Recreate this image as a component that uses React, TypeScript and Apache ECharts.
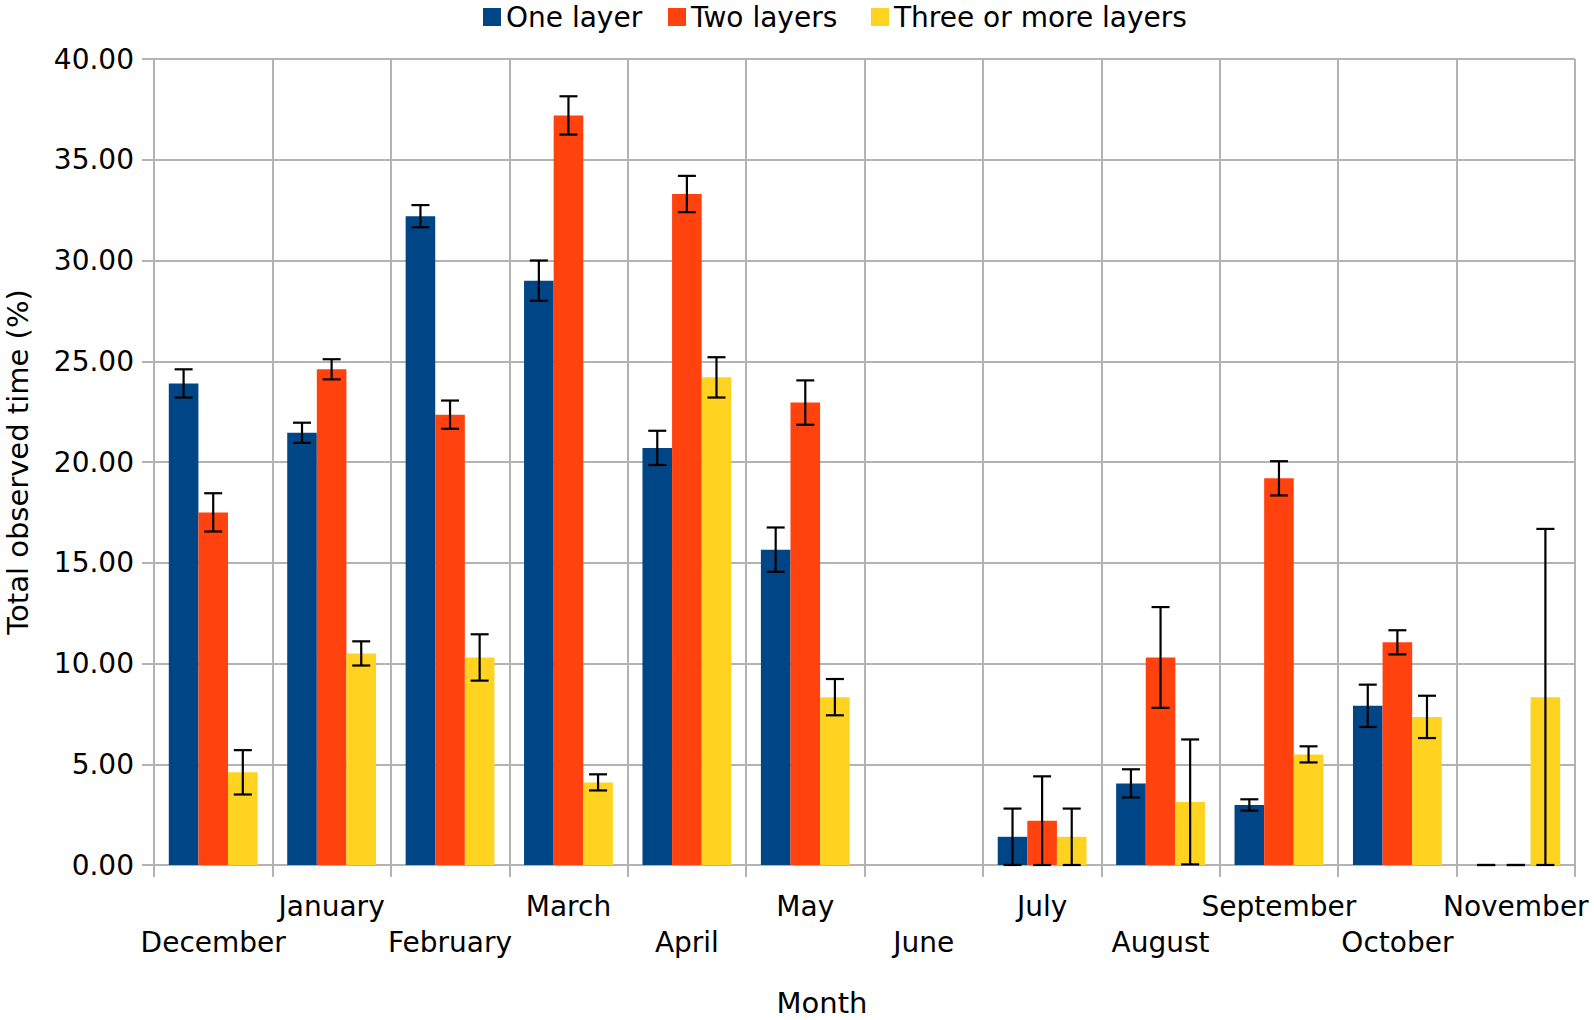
import React, { useEffect, useRef } from "react";
import * as echarts from "echarts";

const months = [
  "December", "January", "February", "March", "April", "May",
  "June", "July", "August", "September", "October", "November",
];
const seriesNames = ["One layer", "Two layers", "Three or more layers"];
const colors = ["#004586", "#ff420e", "#ffd320"];

const oneLayer = [23.9, 21.45, 32.2, 29.0, 20.7, 15.65, null, 1.4, 4.05, 2.98, 7.9, 0];
const oneLayerErr = [0.7, 0.5, 0.55, 1.0, 0.85, 1.1, null, 1.4, 0.7, 0.28, 1.05, 0];
const twoLayers = [17.5, 24.6, 22.35, 37.2, 33.3, 22.95, null, 2.2, 10.3, 19.19, 11.05, 0];
const twoLayersErr = [0.95, 0.5, 0.7, 0.95, 0.9, 1.1, null, 2.2, 2.5, 0.85, 0.6, 0];
const threeLayers = [4.6, 10.5, 10.3, 4.1, 24.2, 8.33, null, 1.4, 3.13, 5.49, 7.35, 8.33];
const threeLayersErr = [1.1, 0.6, 1.15, 0.4, 1.0, 0.9, null, 1.4, 3.1, 0.4, 1.05, 8.35];

const yTicks = { min: 0, max: 40, interval: 5 };

const values = [oneLayer, twoLayers, threeLayers];
const errors = [oneLayerErr, twoLayersErr, threeLayersErr];

const FONT = "DejaVu Sans";
const legendLefts = [478, 663, 866];

export default function App() {
  const ref = useRef<HTMLDivElement>(null);
  useEffect(() => {
    if (!ref.current) return;
    const chart = echarts.init(ref.current, null, { renderer: "svg" });

    const barSeries = values.map((vals, si) => ({
      type: "bar",
      name: seriesNames[si],
      data: vals.map((v) => (v == null ? "-" : v)),
      itemStyle: { color: colors[si] },
      barGap: "0%",
      barCategoryGap: "25%",
      z: 2,
    }));

    const errSeries = values.map((vals, si) => {
      const data: number[][] = [];
      vals.forEach((v, i) => {
        const e = errors[si][i];
        if (v == null || e == null) return;
        data.push([i, Math.max(0, v - e), v + e]);
      });
      return {
        type: "custom",
        name: "err" + si,
        data,
        encode: { x: 0, y: [1, 2] },
        z: 10,
        silent: true,
        renderItem: (params: any, api: any) => {
          const ci = api.value(0);
          const lo = api.value(1);
          const hi = api.value(2);
          const catW = api.size([1, 0])[0];
          const barW = (catW * 0.75) / 3;
          const cx = api.coord([ci, 0])[0] + (si - 1) * barW;
          const yLo = api.coord([ci, lo])[1];
          const yHi = api.coord([ci, hi])[1];
          const half = 9;
          const st = { stroke: "#000000", lineWidth: 2.2 };
          return {
            type: "group",
            children: [
              { type: "line", shape: { x1: cx, y1: yLo, x2: cx, y2: yHi }, style: st },
              { type: "line", shape: { x1: cx - half, y1: yHi, x2: cx + half, y2: yHi }, style: st },
              { type: "line", shape: { x1: cx - half, y1: yLo, x2: cx + half, y2: yLo }, style: st },
            ],
          };
        },
      };
    });

    const legends = seriesNames.map((n, i) => ({
      data: [n],
      left: legendLefts[i],
      top: -2,
      itemWidth: 18,
      itemHeight: 18,
      icon: "rect",
      textStyle: { fontFamily: FONT, fontSize: 28, color: "#000" },
    }));

    chart.setOption({
      animation: false,
      backgroundColor: "#ffffff",
      textStyle: { fontFamily: FONT },
      legend: legends,
      grid: {
        left: 154,
        right: 19,
        top: 59,
        bottom: 155,
        containLabel: false,
        outerBoundsMode: "none",
      },
      xAxis: {
        type: "category",
        data: months,
        axisLine: { lineStyle: { color: "#b3b3b3", width: 2 } },
        axisTick: { show: true, length: 12, lineStyle: { color: "#b3b3b3", width: 2 } },
        splitLine: { show: true, lineStyle: { color: "#b3b3b3", width: 2 } },
        axisLabel: {
          interval: 0,
          margin: 23,
          fontFamily: FONT,
          fontSize: 28,
          color: "#000",
          lineHeight: 36,
          hideOverlap: false,
          formatter: (v: string, i: number) => (i % 2 === 1 ? v : "\n" + v),
        },
      },
      yAxis: {
        type: "value",
        min: yTicks.min,
        max: yTicks.max,
        interval: yTicks.interval,
        name: "Total observed time (%)",
        nameLocation: "middle",
        nameGap: 122,
        nameTextStyle: { fontFamily: FONT, fontSize: 29, color: "#000" },
        axisLine: { show: true, lineStyle: { color: "#b3b3b3", width: 2 } },
        axisTick: { show: true, length: 12, lineStyle: { color: "#b3b3b3", width: 2 } },
        splitLine: { show: true, lineStyle: { color: "#b3b3b3", width: 2 } },
        axisLabel: {
          margin: 20,
          fontFamily: FONT,
          fontSize: 28,
          color: "#000",
          formatter: (v: number) => v.toFixed(2),
        },
      },
      graphic: [
        {
          type: "text",
          x: 822,
          y: 1003,
          style: {
            text: "Month",
            fontFamily: FONT,
            fontSize: 29,
            fill: "#000",
            align: "center",
            verticalAlign: "middle",
          },
        },
      ],
      series: [...barSeries, ...errSeries],
    });
    return () => chart.dispose();
  }, []);
  return <div ref={ref} style={{ width: 1594, height: 1020, position: "absolute", left: 0, top: 0 }} />;
}
